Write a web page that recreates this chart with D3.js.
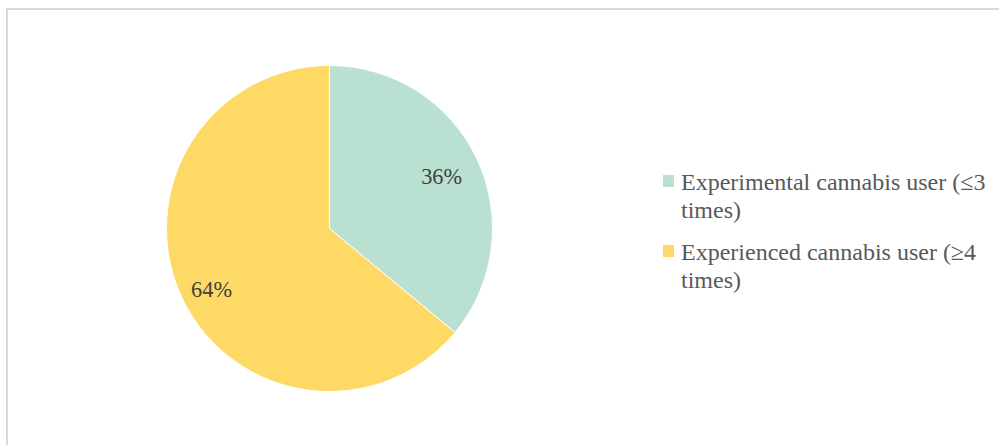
<!DOCTYPE html>
<html>
<head>
<meta charset="utf-8">
<script src="https://cdn.jsdelivr.net/npm/d3@7"></script>
<style>
  html, body { margin: 0; padding: 0; background: #fff; overflow: hidden; }
</style>
</head>
<body>
<div id="chart"></div>
<script>
// data
const categories = ["Experimental cannabis user (\u22643 times)", "Experienced cannabis user (\u22654 times)"];
const legendLines = [["Experimental cannabis user (\u22643", "times)"], ["Experienced cannabis user (\u22654", "times)"]];
const shares = [36, 64];
const sliceColors = ["#b9e0d0", "#ffd966"];

const FONT = '"Liberation Serif"';
const W = 999, H = 445;
const svg = d3.select("#chart").append("svg")
  .attr("width", W)
  .attr("height", H);

// chart area border (runs off right and bottom)
svg.append("rect")
  .attr("x", 7).attr("y", 9)
  .attr("width", 1100).attr("height", 500)
  .attr("fill", "none")
  .attr("stroke", "#d9d9d9")
  .attr("stroke-width", 2);

const cx = 329.5, cy = 228.5, R = 163;

const pie = d3.pie().sort(null).value(d => d);
const arcs = pie(shares);
const arc = d3.arc().innerRadius(0).outerRadius(R);
// excel "best fit" label spots, roughly
const labelR = [R * 0.76, R * 0.80];
const labelNudge = [0, 5];

const g = svg.append("g").attr("transform", `translate(${cx},${cy})`);

g.selectAll("path.slice")
  .data(arcs)
  .enter().append("path")
  .attr("class", "slice")
  .attr("d", arc)
  .attr("fill", (d, i) => sliceColors[i])
  .attr("stroke", "#fff")
  .attr("stroke-width", 1);

g.selectAll("text.lbl")
  .data(arcs)
  .enter().append("text")
  .attr("class", "lbl")
  .attr("x", (d, i) => d3.arc().innerRadius(labelR[i]).outerRadius(labelR[i]).centroid(d)[0])
  .attr("y", (d, i) => d3.arc().innerRadius(labelR[i]).outerRadius(labelR[i]).centroid(d)[1] + labelNudge[i])
  .attr("dy", "0.35em")
  .attr("text-anchor", "middle")
  .attr("fill", "#404040")
  .style("font-family", FONT)
  .style("font-size", "22.3px")
  .text(d => d.data + "%");

// legend
const legend = svg.append("g").attr("transform", "translate(663,0)");
const itemTop = [175, 245];
categories.forEach((c, i) => {
  const item = legend.append("g").attr("transform", `translate(0,${itemTop[i]})`);
  item.append("rect")
    .attr("x", 0).attr("y", 0)
    .attr("width", 11).attr("height", 12)
    .attr("fill", sliceColors[i]);
  const t = item.append("text")
    .attr("x", 18).attr("y", 15)
    .attr("fill", "#595959")
    .style("font-family", FONT)
    .style("font-size", "24px");
  legendLines[i].forEach((line, j) => {
    t.append("tspan").attr("x", 18).attr("dy", j === 0 ? 0 : 28).text(line);
  });
});
</script>
</body>
</html>
